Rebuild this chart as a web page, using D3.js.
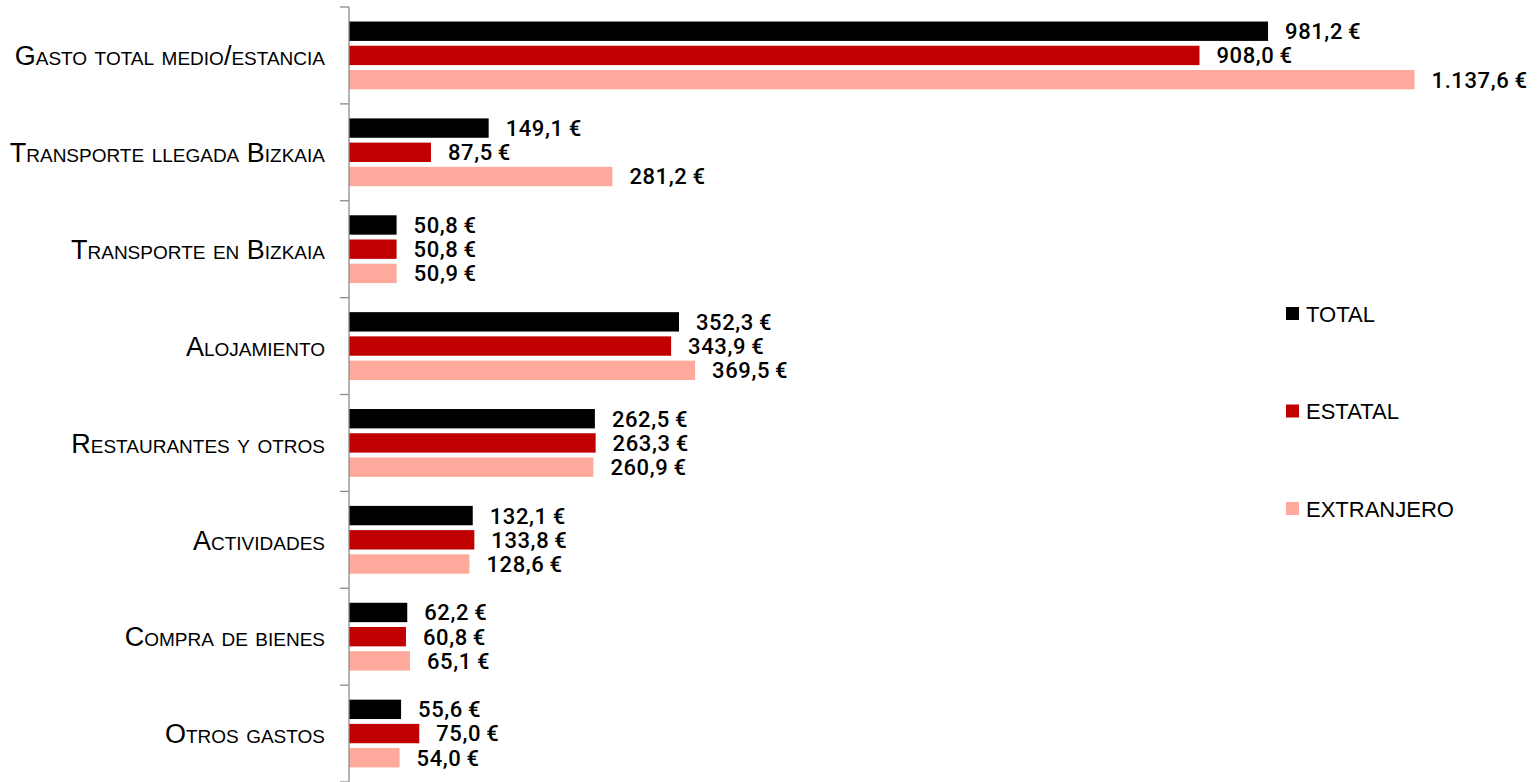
<!DOCTYPE html>
<html>
<head>
<meta charset="utf-8">
<script src="https://cdn.jsdelivr.net/npm/d3@7"></script>
<style>
  html, body { margin: 0; padding: 0; background: #fff; }
  svg { display: block; }
</style>
</head>
<body>
<div id="chart"></div>
<script>
// Gasto medio por estancia, por origen del visitante
const categories = [
  "Gasto total medio/estancia",
  "Transporte llegada Bizkaia",
  "Transporte en Bizkaia",
  "Alojamiento",
  "Restaurantes y otros",
  "Actividades",
  "Compra de bienes",
  "Otros gastos"
];
const seriesNames = ["TOTAL", "ESTATAL", "EXTRANJERO"];
const totalValues      = [981.2, 149.1, 50.8, 352.3, 262.5, 132.1, 62.2, 55.6];
const estatalValues    = [908.0,  87.5, 50.8, 343.9, 263.3, 133.8, 60.8, 75.0];
const extranjeroValues = [1137.6, 281.2, 50.9, 369.5, 260.9, 128.6, 65.1, 54.0];
const seriesColors = ["#000000", "#c00000", "#ffa99c"];

const width = 1539;
const height = 782;
const margin = { top: 7, right: 66, bottom: 0, left: 349 };

const seriesValues = [totalValues, estatalValues, extranjeroValues];
const rows = categories.map((c, i) => ({
  category: c,
  values: seriesNames.map((s, j) => ({ series: s, value: seriesValues[j][i] }))
}));

const locale = d3.formatLocale({ decimal: ",", thousands: ".", grouping: [3], currency: ["", "\u2009€"] });
const fmt = locale.format("$,.1f");

const svg = d3.select("#chart")
  .append("svg")
  .attr("width", width)
  .attr("height", height)
  .attr("viewBox", [0, 0, width, height]);

const x = d3.scaleLinear()
  .domain([0, 1200])
  .range([margin.left, width - margin.right]);

const y0 = d3.scaleBand()
  .domain(categories)
  .range([margin.top, height - margin.bottom])
  .padding(0);

const y1 = d3.scaleBand()
  .domain(seriesNames)
  .range([0, y0.bandwidth()])
  .paddingInner(0.2)
  .paddingOuter(0.6);

const color = d3.scaleOrdinal().domain(seriesNames).range(seriesColors);

// bars + value labels
const group = svg.append("g")
  .selectAll("g")
  .data(rows)
  .join("g")
  .attr("transform", d => `translate(0,${y0(d.category)})`);

group.selectAll("rect")
  .data(d => d.values)
  .join("rect")
  .attr("x", x(0))
  .attr("y", d => y1(d.series))
  .attr("width", d => x(d.value) - x(0))
  .attr("height", y1.bandwidth())
  .attr("fill", d => color(d.series));

group.selectAll("text")
  .data(d => d.values)
  .join("text")
  .attr("x", d => x(d.value) + 17)
  .attr("y", d => y1(d.series) + y1.bandwidth() / 2)
  .attr("dy", "0.36em")
  .attr("font-family", "Roboto, 'Liberation Sans', sans-serif")
  .attr("font-weight", 500)
  .attr("font-size", 22)
  .attr("letter-spacing", 0.6)
  .attr("fill", "#000")
  .text(d => fmt(d.value));

// vertical category axis
const axis = svg.append("g").attr("stroke", "#8c8c8c").attr("stroke-width", 1.3);
axis.append("line")
  .attr("x1", x(0)).attr("x2", x(0))
  .attr("y1", y0.range()[0]).attr("y2", y0.range()[1]);
axis.selectAll(".tick")
  .data(categories.map(c => y0(c)).concat([y0.range()[1]]))
  .join("line")
  .attr("class", "tick")
  .attr("x1", x(0) - 9).attr("x2", x(0))
  .attr("y1", d => d).attr("y2", d => d);

svg.append("g")
  .selectAll("text")
  .data(categories)
  .join("text")
  .attr("x", x(0) - 24)
  .attr("y", d => y0(d) + y0.bandwidth() / 2)
  .attr("dy", "0.36em")
  .attr("text-anchor", "end")
  .attr("font-family", "'Liberation Sans Narrow', 'Arial Narrow', sans-serif")
  .attr("font-size", 27)
  .style("font-variant", "small-caps")
  .attr("fill", "#000")
  .text(d => d);

// legend
const legend = svg.append("g")
  .attr("transform", "translate(1286,314)");

const item = legend.selectAll("g")
  .data(seriesNames)
  .join("g")
  .attr("transform", (d, i) => `translate(0,${i * 97.5})`);

item.append("rect")
  .attr("x", 0)
  .attr("y", -7)
  .attr("width", 13)
  .attr("height", 13)
  .attr("fill", d => color(d));

item.append("text")
  .attr("x", 20)
  .attr("y", 0)
  .attr("dy", "0.36em")
  .attr("font-family", "'Liberation Sans Narrow', 'Arial Narrow', sans-serif")
  .attr("font-size", 22)
  .attr("fill", "#000")
  .text(d => d);
</script>
</body>
</html>
